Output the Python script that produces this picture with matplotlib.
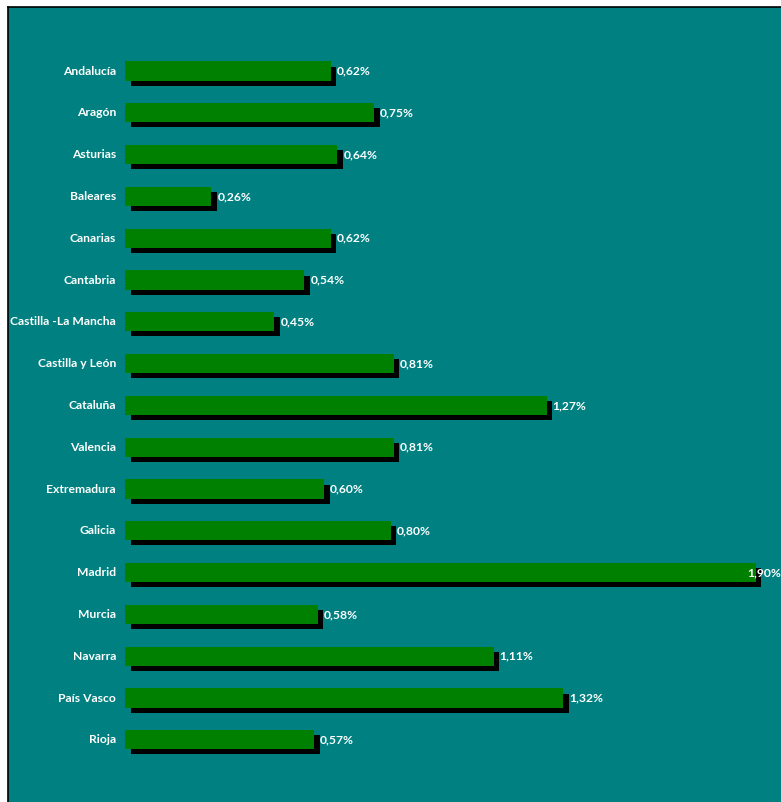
import matplotlib
matplotlib.use('Agg')
import matplotlib.pyplot as plt
import matplotlib.patheffects as pe

# datos por comunidad autonoma (%)
regiones = ['Andalucía', 'Aragón', 'Asturias', 'Baleares', 'Canarias', 'Cantabria',
            'Castilla -La Mancha', 'Castilla y León', 'Cataluña', 'Valencia',
            'Extremadura', 'Galicia', 'Madrid', 'Murcia', 'Navarra', 'País Vasco', 'Rioja']
valores = [0.62, 0.75, 0.64, 0.26, 0.62, 0.54, 0.45, 0.81, 1.27, 0.81,
           0.60, 0.80, 1.90, 0.58, 1.11, 1.32, 0.57]

teal = '#008080'
verde = '#008000'
plt.rcParams['font.family'] = ['Lato', 'DejaVu Sans']

fig = plt.figure(figsize=(7.81, 8.02), dpi=100, facecolor='white')
ax = fig.add_axes([8 / 781, 0, 773 / 781, 795 / 802])
ax.set_facecolor(teal)

pos = list(range(len(regiones)))
bars = ax.barh(pos, valores, height=0.455, color=verde, zorder=3,
               path_effects=[pe.SimplePatchShadow(offset=(4, -3.7), shadow_rgbFace='black', alpha=1.0),
                             pe.Normal()])

xmin, xmax = -117 / 332, 656 / 332
ax.set_xlim(xmin, xmax)
ax.set_ylim((802 - 71) / 41.8, (7 - 71) / 41.8)

fs = 8.7
for i, (r, v) in enumerate(zip(regiones, valores)):
    ax.annotate(r, (0, i), xytext=(-9, 0), textcoords='offset pixels',
                ha='right', va='center', color='white', fontsize=fs, fontweight='bold')
    txt = ('%.2f' % v).replace('.', ',') + '%'
    if v == max(valores):
        ax.annotate(txt, (xmax, i), xytext=(0, 0), textcoords='offset pixels',
                    ha='right', va='center', color='white', fontsize=fs, fontweight='bold', zorder=5)
    else:
        ax.annotate(txt, (v, i), xytext=(6, 0), textcoords='offset pixels',
                    ha='left', va='center', color='white', fontsize=fs, fontweight='bold', zorder=5)

ax.set_xticks([])
ax.set_yticks([])
for s in ['left', 'top', 'bottom']:
    ax.spines[s].set_color('black')
    ax.spines[s].set_linewidth(1.2)
ax.spines['right'].set_visible(False)
ax.spines['bottom'].set_visible(False)

fig.savefig('out.png', dpi=100, facecolor='white')
